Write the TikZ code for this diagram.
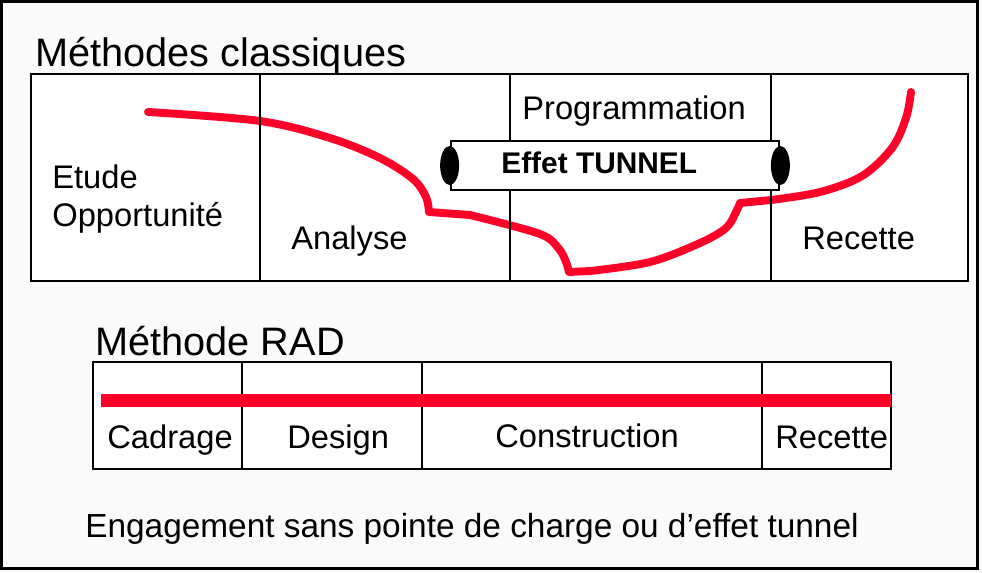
\documentclass[tikz,border=0pt]{standalone}
\usepackage{fontspec}
\setmainfont{Liberation Sans}
\usetikzlibrary{shapes.geometric}
\definecolor{penred}{RGB}{255,0,40}
\definecolor{paper}{RGB}{250,250,250}

\begin{document}
\begin{tikzpicture}[x=0.02cm,y=-0.02cm,
    box/.style={line width=1.6pt},
    lbl/.style={anchor=base west,inner sep=0pt,font=\fontsize{18.6}{21}\selectfont},
    ttl/.style={anchor=base west,inner sep=0pt,font=\fontsize{22.6}{26}\selectfont},
    redpen/.style={draw=penred,line width=4.5pt,line cap=round,line join=round}]
    \useasboundingbox (0,0) rectangle (982,572);
    \fill[paper] (0,0) rectangle (982,572);   % page
    \draw[line width=1.7pt] (1.5,1.5) rectangle (977.5,568);

    % classic methods
    \node[ttl] (classic) at (35,66) {Méthodes classiques};
    \fill[white] (31,74) rectangle (968,281);
    \draw[redpen]
        plot[smooth,tension=.55] coordinates {(148,112) (260,121) (330,138) (380,158) (413,179) (426,197) (429,212)}
        -- plot[smooth,tension=.55] coordinates {(470,215) (540,234) (559,249) (566,262) (569,272)}
        -- plot[smooth,tension=.55] coordinates {(590,271) (650,262) (700,243) (726,228) (736,212) (740,203)}
        -- plot[smooth,tension=.55] coordinates {(771,200) (820,192) (862,176) (892,148) (906,118) (911,92)};
    \draw[box] (31,74) rectangle (968,281);
    \foreach \x in {260,510,771} {
        \draw[box] (\x,74) -- (\x,281);
    }
    \node[lbl] (etude) at (52,188) {Etude};
    \node[lbl] (opport) at (52,226) {Opportunité};
    \node[lbl] (analyse) at (291,249) {Analyse};
    \node[lbl] (prog) at (522,119) {Programmation};
    \node[lbl] (recette) at (802,249) {Recette};

    % tunnel
    \node[draw,box,fill=white,inner sep=0pt,minimum width=6.56cm,minimum height=0.98cm] (tunnel) at (615,165.5) {};
    \node[fill,ellipse,inner sep=0pt,minimum width=0.38cm,minimum height=0.78cm] (tunL) at (tunnel.west) {};
    \node[fill,ellipse,inner sep=0pt,minimum width=0.38cm,minimum height=0.78cm] (tunR) at (tunnel.east) {};
    \node[anchor=base west,inner sep=0pt,font=\fontsize{17}{20}\selectfont\bfseries] (effet) at (501,173) {Effet TUNNEL};

    % RAD
    \node[ttl] (rad) at (95,355) {Méthode RAD};
    \draw[box,fill=white] (93,362) rectangle (891,469);
    \foreach \x in {242,422,762} {
        \draw[box] (\x,362) -- (\x,469);
    }
    \coordinate (radL) at (101,400);
    \coordinate (radR) at (891,400);
    \draw[penred,line width=7.4pt] (radL) -- (radR);
    \node[lbl] (cadrage) at (107,448) {Cadrage};
    \node[lbl] (design) at (287,448) {Design};
    \node[lbl] (constr) at (495,447) {Construction};
    \node[lbl] (recrad) at (775,448) {Recette};

    \node[lbl,font=\fontsize{19}{22}\selectfont] (engage) at (85,537) {Engagement sans pointe de charge ou d’effet tunnel};
\end{tikzpicture}
\end{document}
